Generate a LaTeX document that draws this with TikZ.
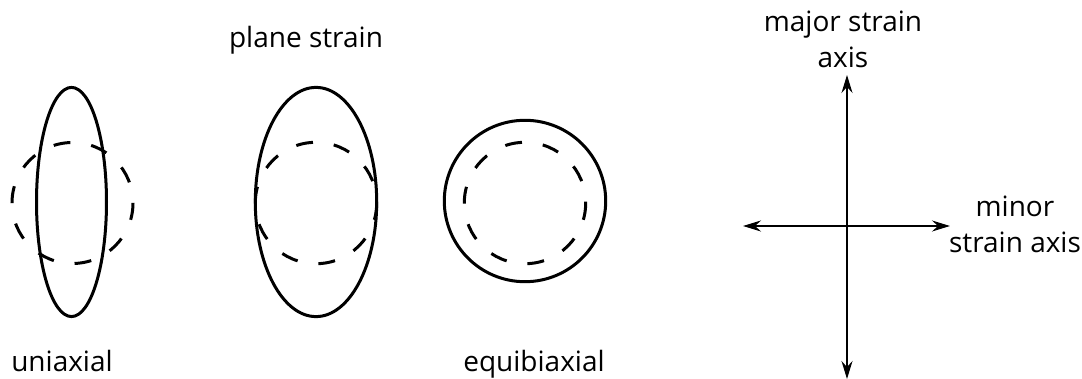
\documentclass[tikz,border=0pt]{standalone}
\usepackage{fontspec}
\setmainfont{Open Sans}
\usetikzlibrary{arrows.meta}
\begin{document}
\begin{tikzpicture}[x=1pt, y=-1pt,
    outline/.style={line width=3pt},
    original/.style={line width=3pt, dash pattern=on 17pt off 21pt},
    strainaxis/.style={line width=1.5pt, {Stealth[length=18pt, width=11pt, inset=6pt]}-{Stealth[length=18pt, width=11pt, inset=6pt]}},
    caption/.style={font=\fontsize{28}{36}\selectfont, align=center, inner sep=0pt, anchor=base}]
    \useasboundingbox (0, 0) rectangle (1082, 379);

    % uniaxial
    \draw[outline] (71.5, 202) ellipse (35 and 114.6);
    \draw[original] (72.5, 203) circle (60.5);
    \node[caption] (uniaxial) at (62, 372) {uniaxial};

    % plane strain
    \draw[outline] (316, 202) ellipse (60.7 and 114.6);
    \draw[original] (316, 203) circle (60.7);
    \node[caption] (plane) at (306, 48) {plane strain};

    % equibiaxial
    \draw[outline] (525, 201) circle (80.7);
    \draw[original] (525, 203) circle (60.7);
    \node[caption] (equi) at (534, 372) {equibiaxial};

    % strain axes (base anchor sits on the last line)
    \coordinate (major top) at (847, 75);
    \coordinate (major bottom) at (847, 379);
    \coordinate (minor left) at (743, 226);
    \coordinate (minor right) at (950, 226);
    \draw[strainaxis] (major bottom) -- (major top);
    \draw[strainaxis] (minor left) -- (minor right);
    \node[caption] (major) at (843, 68) {major strain\\axis};
    \node[caption] (minor) at (1015, 253) {minor\\strain axis};
\end{tikzpicture}
\end{document}
